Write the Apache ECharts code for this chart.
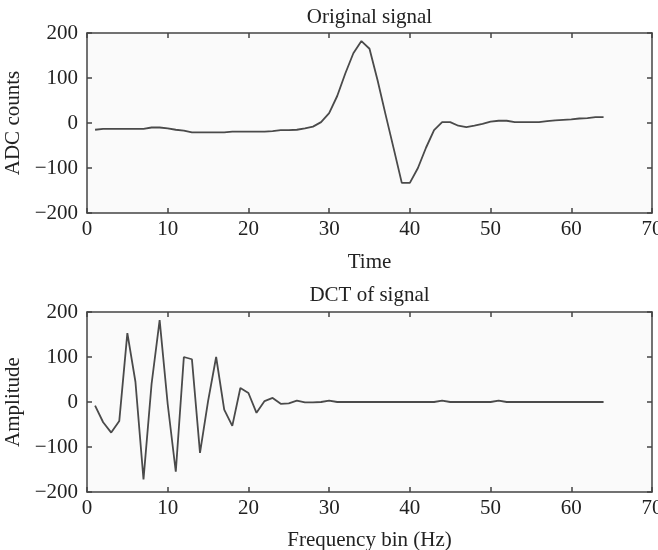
<!DOCTYPE html>
<html>
<head>
<meta charset="utf-8">
<script src="https://cdn.jsdelivr.net/npm/echarts@6/dist/echarts.min.js"></script>
<style>
  html, body { margin: 0; padding: 0; background: #fff; }
  #chart { width: 658px; height: 550px; }
</style>
</head>
<body>
<div id="chart"></div>
<script>
// sample index (time / frequency bin)
var sampleIdx = [1, 2, 3, 4, 5, 6, 7, 8, 9, 10, 11, 12, 13, 14, 15, 16,
  17, 18, 19, 20, 21, 22, 23, 24, 25, 26, 27, 28, 29, 30, 31, 32,
  33, 34, 35, 36, 37, 38, 39, 40, 41, 42, 43, 44, 45, 46, 47, 48,
  49, 50, 51, 52, 53, 54, 55, 56, 57, 58, 59, 60, 61, 62, 63, 64]

// original signal (ADC counts)
var signalVals = [-15, -13, -13, -13, -13, -13, -13, -10, -10, -12, -15, -17, -21, -21, -21, -21,
  -21, -19, -19, -19, -19, -19, -18, -16, -16, -15, -12, -8, 2, 22, 60, 110,
  155, 182, 165, 95, 18, -57, -133, -133, -100, -55, -16, 2, 2, -6, -9, -6,
  -2, 3, 5, 5, 2, 2, 2, 2, 4, 6, 7, 8, 10, 11, 13, 13]

// DCT amplitude
var dctVals = [-8, -45, -68, -42, 153, 45, -172, 40, 182, -5, -155, 100, 95, -113, 2, 100,
  -17, -53, 31, 20, -24, 2, 9, -4, -3, 3, -1, -1, 0, 3, 0, 0,
  0, 0, 0, 0, 0, 0, 0, 0, 0, 0, 0, 3, 0, 0, 0, 0,
  0, 0, 3, 0, 0, 0, 0, 0, 0, 0, 0, 0, 0, 0, 0, 0]

var xTicks = [0, 70, 10]      // min, max, interval
var yTicks = [-200, 200, 100]

var FONT = 'Liberation Serif'
var INK = '#222'
var EDGE = '#444'

function pairs(ys) {
  return ys.map(function (v, i) { return [sampleIdx[i], v] })
}

function minusFmt(v) {
  return v < 0 ? '\u2212' + Math.abs(v) : String(v)
}

function xAxisBase(grid, pos, showLabel, name, gap) {
  return {
    type: 'value',
    gridIndex: grid,
    position: pos,
    min: xTicks[0],
    max: xTicks[1],
    interval: xTicks[2],
    name: name || '',
    nameLocation: 'middle',
    nameGap: gap || 0,
    nameTextStyle: { fontFamily: FONT, fontSize: 21, color: INK },
    axisLine: { show: true, onZero: false, lineStyle: { color: EDGE, width: 1.5 } },
    axisTick: { show: true, inside: true, length: 5, lineStyle: { color: EDGE, width: 1.5 } },
    axisLabel: { show: showLabel, margin: 6, fontFamily: FONT, fontSize: 21, color: INK },
    splitLine: { show: false }
  }
}

function yAxisBase(grid, pos, showLabel, name) {
  return {
    type: 'value',
    gridIndex: grid,
    position: pos,
    min: yTicks[0],
    max: yTicks[1],
    interval: yTicks[2],
    name: name || '',
    nameLocation: 'middle',
    nameGap: 63,
    nameRotate: 90,
    nameTextStyle: { fontFamily: FONT, fontSize: 21, color: INK },
    axisLine: { show: true, onZero: false, lineStyle: { color: EDGE, width: 1.5 } },
    axisTick: { show: true, inside: true, length: 5, lineStyle: { color: EDGE, width: 1.5 } },
    axisLabel: { show: showLabel, margin: 9, fontFamily: FONT, fontSize: 21, color: INK, formatter: minusFmt },
    splitLine: { show: false }
  }
}

var chart = echarts.init(document.getElementById('chart'))

var option = {
  animation: false,
  backgroundColor: '#fff',
  grid: [
    { left: 87, right: 6, top: 33, height: 180, outerBoundsMode: 'none', containLabel: false,
      show: true, backgroundColor: '#fafafa', borderWidth: 0 },
    { left: 87, right: 6, top: 312, height: 180, outerBoundsMode: 'none', containLabel: false,
      show: true, backgroundColor: '#fafafa', borderWidth: 0 }
  ],
  xAxis: [
    xAxisBase(0, 'bottom', true, 'Time', 39),
    xAxisBase(0, 'top', false, 'Original signal', 5),
    xAxisBase(1, 'bottom', true, 'Frequency bin (Hz)', 38),
    xAxisBase(1, 'top', false, 'DCT of signal', 6)
  ],
  yAxis: [
    yAxisBase(0, 'left', true, 'ADC counts'),
    yAxisBase(0, 'right', false),
    yAxisBase(1, 'left', true, 'Amplitude'),
    yAxisBase(1, 'right', false)
  ],
  series: [
    {
      type: 'line',
      xAxisIndex: 0,
      yAxisIndex: 0,
      data: pairs(signalVals),
      showSymbol: false,
      lineStyle: { color: '#4a4a4a', width: 1.8 }
    },
    {
      type: 'line',
      xAxisIndex: 2,
      yAxisIndex: 2,
      data: pairs(dctVals),
      showSymbol: false,
      lineStyle: { color: '#4a4a4a', width: 1.8 }
    }
  ]
}

chart.setOption(option)
</script>
</body>
</html>
